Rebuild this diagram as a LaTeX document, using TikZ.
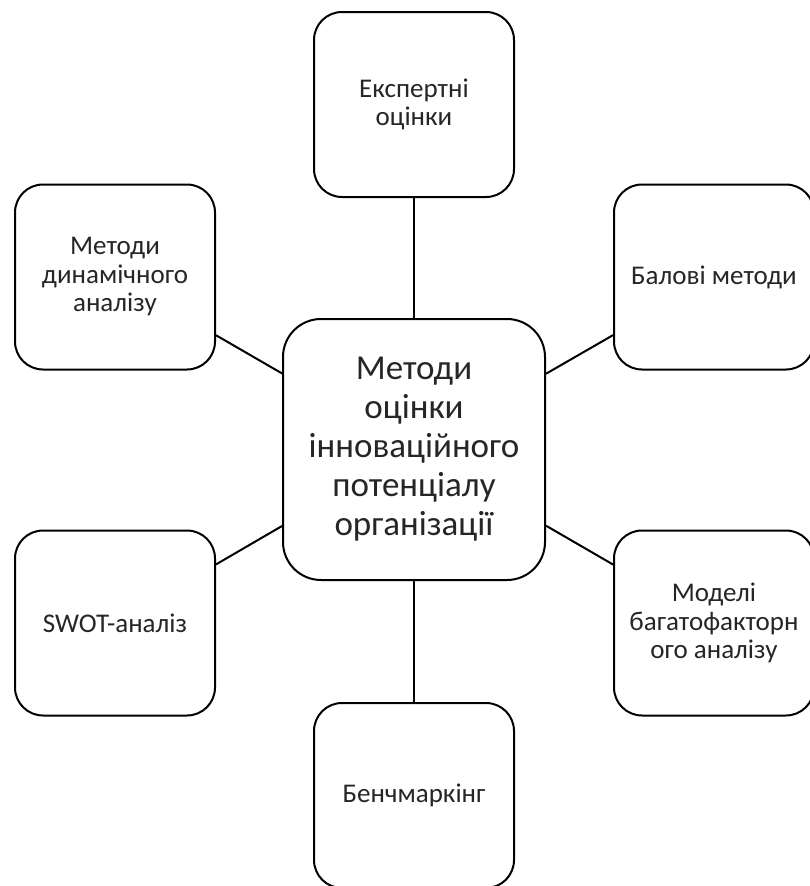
\documentclass[tikz,border=0pt]{standalone}
\usepackage{fontspec}
\setmainfont{Carlito}
\usepackage{tikz}
\usetikzlibrary{positioning}
\tikzstyle{meth} = [rectangle, rounded corners=28pt, text centered, align=center, line width=2pt, draw=black, fill=white, text=black!85, minimum width=200pt, minimum height=185pt, inner sep=0pt, font=\fontsize{27}{28.5}\selectfont]
\tikzstyle{core} = [rectangle, rounded corners=38pt, text centered, align=center, line width=2pt, draw=black, fill=white, text=black!85, minimum width=262pt, minimum height=261pt, inner sep=0pt, font=\fontsize{35}{39}\selectfont]
\tikzstyle{link} = [line width=2pt, draw=black]
\begin{document}
\begin{tikzpicture}[x=1pt,y=-1pt]
    \useasboundingbox (0,0) rectangle (810,886);
    \clip (0,0) rectangle (810,886);
    \node (Centre) [core] at (414,449.5) {Методи\\оцінки\\інноваційного\\потенціалу\\організації};
    \node (Ekspert) [meth] at (414,104.5) {Експертні\\оцінки};
    \node (Dynam) [meth] at (115,277) {Методи\\динамічного\\аналізу};
    \node (Bal) [meth] at (714,277) {Балові методи};
    \node (Swot) [meth] at (115,623) {SWOT-аналіз};
    \node (Model) [meth] at (714,623) {Моделі\\багатофакторн\\ого аналізу};
    \node (Bench) [meth] at (414,795.5) {Бенчмаркінг};
    \draw[link] (Ekspert) -- (Centre);
    \draw[link] (Dynam) -- (Centre);
    \draw[link] (Bal) -- (Centre);
    \draw[link] (Swot) -- (Centre);
    \draw[link] (Model) -- (Centre);
    \draw[link] (Bench) -- (Centre);
\end{tikzpicture}
\end{document}
